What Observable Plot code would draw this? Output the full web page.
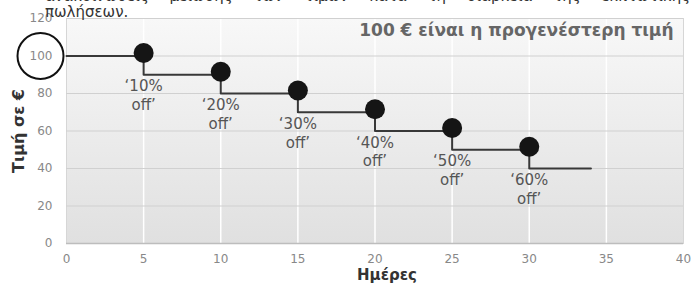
<!DOCTYPE html>
<html><head><meta charset="utf-8">
<script src="https://cdn.jsdelivr.net/npm/d3@7"></script>
<script src="https://cdn.jsdelivr.net/npm/@observablehq/plot@0.6"></script>
<style>
body{margin:0;background:#fff;}
#wrap{position:relative;width:693px;height:291px;overflow:hidden;font-family:"DejaVu Sans",Verdana,sans-serif;}
#wrap svg{position:absolute;left:0;top:0;}
.note{position:absolute;left:45px;width:645px;font-size:15px;line-height:16px;color:#333;}
#l1{top:-12px;text-align:justify;text-align-last:justify;white-space:nowrap;}
#l2{top:4px;}
</style></head><body><div id="wrap"></div>
<script>
const days = [0, 5, 10, 15, 20, 25, 30, 34];
const prices = [100, 90, 80, 70, 60, 50, 40, 40];
const markDays = [5, 10, 15, 20, 25, 30];
const markPrices = [100, 90, 80, 70, 60, 50];
const offLabels = ["‘10%\noff’", "‘20%\noff’", "‘30%\noff’", "‘40%\noff’", "‘50%\noff’", "‘60%\noff’"];
const xTicks = [0, 5, 10, 15, 20, 25, 30, 35, 40];
const yTicks = [0, 20, 40, 60, 80, 100, 120];
const originalPrice = 100;
const title = "100 € είναι η προγενέστερη τιμή";
const xLabel = "Ημέρες";
const yLabel = "Τιμή σε €";
const noteLine1 = "ανακοινώσεις μείωσης των τιμών κατά τη διάρκεια της εκπτωτικής";
const noteLine2 = "πωλήσεων.";

const stepData = days.map((d, i) => ({day: d, price: prices[i]}));
const markData = markDays.map((d, i) => ({day: d, price: markPrices[i], label: offLabels[i]}));

const chart = Plot.plot({
  width: 693, height: 291,
  marginLeft: 66, marginRight: 10, marginTop: 18, marginBottom: 48,
  style: {fontFamily: "DejaVu Sans, sans-serif", background: "transparent", overflow: "visible"},
  x: {domain: [0, 40]},
  y: {domain: [0, 120]},
  marks: [
    Plot.frame({fill: "url(#bgGrad)", stroke: "#d6d6d6"}),
    Plot.gridX(xTicks.slice(1, -1), {stroke: "#ffffff", strokeOpacity: 1, strokeWidth: 1.5}),
    Plot.gridY(yTicks.slice(1), {stroke: "#d0d0d0", strokeOpacity: 1, strokeWidth: 1.2}),
    Plot.ruleY([0], {stroke: "#bdbdbd", strokeWidth: 1.5}),
    Plot.axisX(xTicks, {tickSize: 0, tickPadding: 11, fontSize: 12, color: "#888", label: null}),
    Plot.axisY(yTicks, {tickSize: 0, tickPadding: 14, fontSize: 12, color: "#888", label: null}),
    Plot.text([xLabel], {frameAnchor: "bottom", dx: 12, dy: 36, fontWeight: "bold", fontSize: 15, fill: "#333"}),
    Plot.text([yLabel], {frameAnchor: "left", textAnchor: "middle", rotate: -90, dx: -48, fontWeight: "bold", fontSize: 16, fill: "#333"}),
    Plot.text([title], {frameAnchor: "top-right", dx: -10, dy: 12, textAnchor: "end", lineAnchor: "middle", fontWeight: "bold", fontSize: 17, fill: "#666"}),
    Plot.dot([originalPrice], {y: d => d, frameAnchor: "left", dx: -26, r: 23, stroke: "#111", strokeWidth: 2, fill: "none"}),
    Plot.line(stepData, {x: "day", y: "price", curve: "step-after", stroke: "#383838", strokeWidth: 2}),
    Plot.dot(markData, {x: "day", y: "price", r: 10, fill: "#151515", dy: -3}),
    Plot.text(markData, {x: "day", y: "price", text: "label", lineAnchor: "top", dy: 22, fontSize: 15, fill: "#555", lineHeight: 1.25})
  ]
});

const defs = d3.select(chart).insert("defs", ":first-child");
const grad = defs.append("linearGradient").attr("id", "bgGrad").attr("x1", 0).attr("y1", 0).attr("x2", 0).attr("y2", 1);
grad.append("stop").attr("offset", "0%").attr("stop-color", "#f8f8f8");
grad.append("stop").attr("offset", "100%").attr("stop-color", "#e0e0e0");

const wrap = document.getElementById("wrap");
wrap.appendChild(chart);
const l1 = document.createElement("div");
l1.className = "note"; l1.id = "l1"; l1.textContent = noteLine1;
const l2 = document.createElement("div");
l2.className = "note"; l2.id = "l2"; l2.textContent = noteLine2;
wrap.appendChild(l1); wrap.appendChild(l2);
</script>
</body></html>
